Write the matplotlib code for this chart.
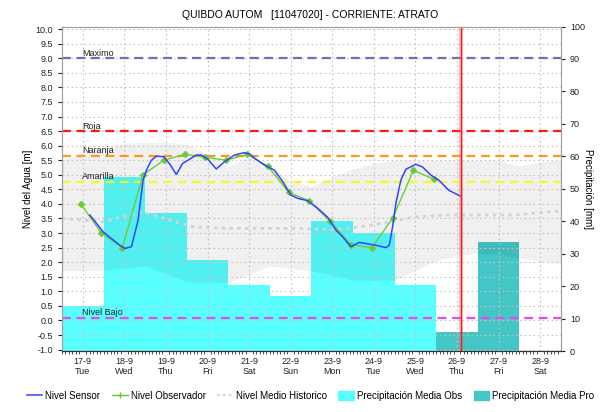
import numpy as np
from matplotlib import pyplot as plt
from matplotlib.lines import Line2D
from matplotlib.patches import Patch

plt.rcParams['font.family'] = ['Liberation Sans', 'DejaVu Sans']

# x axis: one slot per day
days = ['17-9', '18-9', '19-9', '20-9', '21-9', '22-9', '23-9', '24-9', '25-9', '26-9', '27-9', '28-9']
weekdays = ['Tue', 'Wed', 'Thu', 'Fri', 'Sat', 'Sun', 'Mon', 'Tue', 'Wed', 'Thu', 'Fri', 'Sat']

# precipitation [mm]
precip_obs_day = [0, 1, 2, 3, 4, 5, 6, 7, 8]
precip_obs = [14, 53.5, 42.5, 28, 20.5, 17, 40, 36.5, 20.5]
precip_pro_day = [9, 10]
precip_pro = [6, 33.5]

# sensor level [m]
sensor_t = [0.17, 0.49, 0.89, 1.01, 1.17, 1.33, 1.45, 1.53, 1.65, 1.77, 1.95, 2.1, 2.25, 2.4, 2.53,
            2.73, 2.85, 3.01, 3.21, 3.41, 3.65, 3.89, 4.01, 4.17, 4.37, 4.61, 4.81, 5.01, 5.17, 5.41,
            5.65, 5.89, 6.09, 6.25, 6.45, 6.65, 6.81, 7.05, 7.29, 7.37, 7.45, 7.53, 7.65, 7.77, 8.01,
            8.17, 8.37, 8.56, 8.80, 9.08]
sensor_v = [3.62, 3.04, 2.58, 2.47, 2.53, 3.44, 4.82, 5.16, 5.5, 5.64, 5.62, 5.35, 5.01, 5.39, 5.5,
            5.68, 5.68, 5.53, 5.2, 5.45, 5.68, 5.76, 5.71, 5.53, 5.33, 5.16, 4.76, 4.30, 4.19, 4.11,
            3.85, 3.54, 3.10, 2.87, 2.53, 2.68, 2.64, 2.58, 2.5, 2.58, 3.21, 4.02, 4.82, 5.19, 5.36,
            5.27, 4.99, 4.82, 4.47, 4.27]

# observer readings [m]
obs_t = [-0.05, 0.45, 0.95, 1.45, 1.95, 2.45, 2.95, 3.45, 3.95, 4.45, 4.95, 5.45, 5.95, 6.45,
         6.95, 7.45, 7.95, 8.45]
obs_v = [4.0, 3.0, 2.5, 5.0, 5.5, 5.7, 5.6, 5.5, 5.7, 5.3, 4.4, 4.1, 3.4, 2.6, 2.5, 3.5, 5.15, 4.85]

# historical mean and range [m]
hist_t = [-0.5, 0.48, 1.44, 2.5, 2.69, 3.5, 5.09, 6.0, 6.41, 7.2, 8.0, 8.8, 10.4, 11.2, 11.5]
hist_v = [3.5, 3.39, 3.73, 3.27, 3.21, 3.16, 3.16, 3.12, 3.16, 3.33, 3.56, 3.62, 3.62, 3.73, 3.75]
band_t = [-0.5, 0.0, 0.5, 1.0, 1.5, 2.0, 2.5, 3.0, 3.5, 4.0, 4.5, 5.0, 5.5, 6.0, 6.5, 7.0, 7.5,
          8.0, 8.5, 9.0, 9.5, 10.0, 10.5, 11.0, 11.5]
band_hi = [5.5, 5.75, 5.95, 6.08, 6.12, 6.12, 6.05, 5.7, 5.3, 5.6, 5.2, 4.8, 4.6, 4.93, 5.2, 5.4,
           5.5, 5.5, 5.5, 5.5, 5.5, 5.5, 5.3, 5.45, 5.5]
band_lo = [1.70, 1.71, 1.72, 1.8, 1.87, 1.6, 1.32, 1.31, 1.30, 1.6, 1.87, 1.78, 1.70, 1.55, 1.38,
           1.38, 1.38, 1.72, 2.05, 2.22, 2.3, 2.27, 2.15, 2.03, 1.96]

# alert levels [m]
alert_names = ['Maximo', 'Roja', 'Naranja', 'Amarilla', 'Nivel Bajo']
alert_levels = [9.0, 6.5, 5.65, 4.76, 0.1]
alert_colors = ['#6674AE', '#FF1A1A', '#FF9910', '#F7F72E', '#E84CE8']

now_t = 9.09

fig = plt.figure(figsize=(6.03, 4.12), dpi=100)
ax2 = fig.add_axes([0.1028, 0.148, 0.8275, 0.7876])
ax = ax2.twinx()
ax.yaxis.tick_left()
ax.yaxis.set_label_position('left')
ax2.yaxis.tick_right()
ax2.yaxis.set_label_position('right')
ax.set_zorder(ax2.get_zorder() + 1)
ax.patch.set_visible(False)
ax.xaxis.set_visible(True)
ax2.xaxis.set_visible(False)

# precipitation bars on the right axis
ax2.bar(precip_obs_day, precip_obs, width=1.0, color='#57FFFF', linewidth=0)
ax2.bar(precip_pro_day, precip_pro, width=1.0, color='#45C6C6', linewidth=0)
ax2.set_ylim(0, 100)
ax2.set_yticks(np.arange(0, 101, 10))
ax2.set_ylabel('Precipitación [mm]', fontsize=7, rotation=-90, labelpad=6)

# levels on the left axis
ax.fill_between(band_t, band_lo, band_hi, color='black', alpha=0.06, linewidth=0)
ax.set_ylim(-1.05, 10.09)
ax.set_xlim(-0.5, 11.5)
ax.set_yticks(np.arange(-1.0, 10.01, 0.5))
ax.set_yticklabels([f'{v:.1f}' for v in np.arange(-1.0, 10.01, 0.5)])
ax.set_xticks(range(len(days)))
ax.set_xticklabels([f'{d}\n{w}' for d, w in zip(days, weekdays)])
ax.set_xticks(np.arange(-0.5, 11.5, 1 / 12), minor=True)
ax.grid(True, which='major', color='#C4C4C4', linestyle=(0, (1.5, 2.5)), linewidth=0.8)
ax.set_ylabel('Nivel del Agua [m]', fontsize=7, labelpad=2)

ax.plot(hist_t, hist_v, color='#D2D2D2', linestyle=(0, (1.2, 1.6)), linewidth=2)

for name, lev, col in zip(alert_names, alert_levels, alert_colors):
    ax.axhline(lev, color=col, linestyle=(0, (4, 2.5)), linewidth=1.6)
    ax.text(-0.02, lev + 0.02, name, fontsize=6.5, ha='left', va='bottom', color='#222222')

ax.plot(obs_t, obs_v, color='#6CCB3A', linewidth=1, marker='D', markersize=3)
ax.plot(sensor_t, sensor_v, color='#3344FF', linewidth=1.1)

ax.axvline(now_t, color='#FF6666', linewidth=3, alpha=0.4)
ax.axvline(now_t, color='#EE2020', linewidth=1)

for a in (ax, ax2):
    a.tick_params(labelsize=6.5, length=3, width=0.8, colors='#222222')
    for s in a.spines.values():
        s.set_color('#A0A0A0')
    a.spines['bottom'].set_color('#333333')
ax.tick_params(axis='x', which='major', length=0, pad=4)
ax.tick_params(axis='x', which='minor', length=2, width=0.6, color='#333333')

fig.suptitle('QUIBDO AUTOM   [11047020] - CORRIENTE: ATRATO', fontsize=7.5, x=0.514, y=0.975)

handles = [
    Line2D([], [], color='#3344FF', linewidth=1.1),
    Line2D([], [], color='#6CCB3A', linewidth=1, marker='+', markersize=4),
    Line2D([], [], color='#D2D2D2', linestyle=(0, (1.2, 1.6)), linewidth=1.5),
    Patch(color='#57FFFF'),
    Patch(color='#45C6C6'),
]
labels = ['Nivel Sensor', 'Nivel Observador', 'Nivel Medio Historico',
          'Precipitación Media Obs', 'Precipitación Media Pro']
fig.legend(handles, labels, loc='center', bbox_to_anchor=(0.515, 0.04), ncol=5, frameon=False,
           fontsize=7, handlelength=1.6, handleheight=1.0, handletextpad=0.3, columnspacing=1.2)

plt.savefig('out.png', dpi=100)
